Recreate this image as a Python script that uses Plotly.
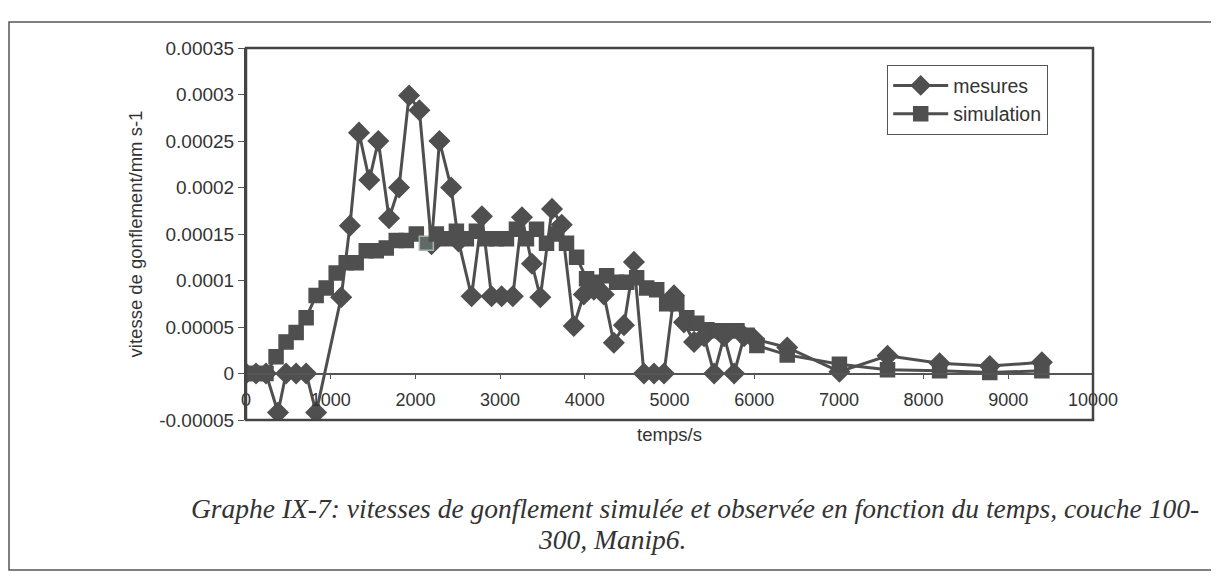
import plotly.graph_objects as go

# ---- data ----
mes_t = [0, 118, 236, 378, 473, 592, 710, 828, 1124, 1227, 1334, 1456, 1562, 1689,
         1807, 1925, 2047, 2190, 2284, 2422, 2509, 2663, 2785, 2899, 3018, 3150,
         3258, 3376, 3475, 3613, 3728, 3870, 3988, 4107, 4225, 4343, 4462, 4580,
         4698, 4817, 4935, 5053, 5171, 5290, 5408, 5527, 5645, 5763, 5881, 6000,
         6390, 7006, 7574, 8189, 8781, 9396]
mes_v = [0, 0, 0, -0.000042, 0, 0, 0, -0.000042, 0.000082, 0.000159, 0.000259,
         0.000208, 0.00025, 0.000167, 0.0002, 0.000299, 0.000283, 0.000139,
         0.00025, 0.0002, 0.000142, 0.000083, 0.000169, 0.000083, 0.000083,
         0.000083, 0.000168, 0.000118, 0.000082, 0.000177, 0.00016, 0.000051,
         0.000085, 0.00009, 0.000085, 0.000033, 0.000052, 0.00012, 0, 0, 0,
         0.000084, 0.000055, 0.000034, 0.00004, 0, 0.00004, 0, 0.00004,
         0.000037, 0.000028, 0.000002, 0.000019, 0.000011, 0.000008, 0.000012]

sim_t = [0, 118, 236, 355, 473, 592, 710, 828, 947, 1065, 1183, 1301, 1420, 1538,
         1656, 1774, 1893, 2011, 2129, 2247, 2365, 2484, 2602, 2720, 2838, 2957,
         3075, 3193, 3311, 3430, 3548, 3666, 3784, 3903, 4021, 4139, 4258, 4376,
         4494, 4612, 4731, 4849, 4967, 5086, 5204, 5322, 5441, 5559, 5677, 5796,
         5914, 6032, 6390, 7006, 7574, 8189, 8781, 9396]
sim_v = [0, 0, 0, 0.000018, 0.000034, 0.000044, 0.00006, 0.000084, 0.000092,
         0.000108, 0.000119, 0.000119, 0.000132, 0.000132, 0.000135, 0.000143,
         0.000143, 0.00015, 0.00014, 0.00015, 0.000145, 0.000153, 0.000145,
         0.000153, 0.000145, 0.000145, 0.000145, 0.000155, 0.000145, 0.000155,
         0.00014, 0.00015, 0.00014, 0.000125, 0.000102, 0.000098, 0.000105,
         0.000098, 0.000098, 0.000103, 0.000092, 0.00009, 0.000075, 0.000075,
         0.00006, 0.000054, 0.000047, 0.000046, 0.000046, 0.000046, 0.000041,
         0.00003, 0.00002, 0.00001, 0.000004, 0.000003, 0.000001, 0.000003]

x_ticks = [0, 1000, 2000, 3000, 4000, 5000, 6000, 7000, 8000, 9000, 10000]
x_ticktext = ["0", "1000", "2000", "3000", "4000", "5000", "6000", "7000", "8000", "9000", "10000"]
y_ticks = [-0.00005, 0, 0.00005, 0.0001, 0.00015, 0.0002, 0.00025, 0.0003, 0.00035]
y_ticktext = ["-0.00005", "0", "0.00005", "0.0001", "0.00015", "0.0002", "0.00025", "0.0003", "0.00035"]

highlight_time = 2129  # the lighter (selected) simulation marker in the scan

# ---- styling ----
DARK = "#4f4f4f"
FONT = "Liberation Sans"
TXT = "#333333"

sim_colors = ["#5f6c66" if t == highlight_time else DARK for t in sim_t]
sim_lines = ["#a9b3ae" if t == highlight_time else DARK for t in sim_t]

fig = go.Figure()
fig.add_trace(go.Scatter(
    x=mes_t, y=mes_v, name="mesures", mode="lines+markers",
    line=dict(color=DARK, width=3),
    marker=dict(symbol="diamond", size=17, color=DARK, line=dict(color=DARK, width=0)),
))
fig.add_trace(go.Scatter(
    x=sim_t, y=sim_v, name="simulation", mode="lines+markers",
    line=dict(color=DARK, width=3),
    marker=dict(symbol="square", size=14, color=sim_colors, line=dict(color=sim_lines, width=1.5)),
))

# page has an 8px body margin; figure coordinates = page coordinates - 8
OFF = 8
W, H = 1219 - OFF, 579 - OFF
L, T = 246 - OFF, 48 - OFF
pw, ph = 847, 372
R, B = W - L - pw, H - T - ph
ymin, ymax = -0.00005, 0.00035
zero_pos = (0 - ymin) / (ymax - ymin)

def px_x(p):  # page pixel -> paper x
    return (p - OFF - L) / pw

def px_y(p):  # page pixel -> paper y
    return (T + ph - (p - OFF)) / ph

fig.update_layout(
    width=W, height=H,
    margin=dict(l=L, r=R, t=T, b=B),
    paper_bgcolor="white", plot_bgcolor="white",
    font=dict(family=FONT, size=18, color=TXT),
    showlegend=True,
    legend=dict(
        x=px_x(887), y=px_y(65), xanchor="left", yanchor="top",
        bordercolor="#555555", borderwidth=1.2, bgcolor="white",
        font=dict(family=FONT, size=19.5, color=TXT),
        tracegroupgap=0, itemwidth=55,
    ),
    xaxis=dict(
        range=[0, 10000], anchor="free", position=zero_pos,
        tickvals=x_ticks, ticktext=x_ticktext,
        showline=True, linecolor="#555555", linewidth=1.5,
        ticks="outside", ticklen=5, tickcolor="#555555",
        ticklabelstandoff=5,
        showgrid=False, zeroline=False,
        title=dict(text="temps/s", standoff=18, font=dict(family=FONT, size=18.5)),
        tickfont=dict(family=FONT, size=18, color=TXT),
    ),
    yaxis=dict(
        range=[ymin, ymax],
        tickvals=y_ticks, ticktext=y_ticktext,
        showline=True, linecolor="#444444", linewidth=2,
        ticks="outside", ticklen=6, tickcolor="#555555",
        showgrid=False, zeroline=False,
        title=dict(text="vitesse de gonflement/mm s-1", standoff=12, font=dict(family=FONT, size=18.5)),
        tickfont=dict(family=FONT, size=19, color=TXT),
    ),
    shapes=[
        # plot area frame
        dict(type="rect", xref="paper", yref="paper", x0=0, x1=1, y0=0, y1=1,
             line=dict(color="#444444", width=2.5), layer="above"),
        # outer figure frame
        dict(type="rect", xref="paper", yref="paper",
             x0=px_x(9), x1=px_x(1213), y0=px_y(570), y1=px_y(22),
             line=dict(color="#555555", width=1.5)),
    ],
    annotations=[
        dict(text="<i>Graphe IX-7: vitesses de gonflement simulée et observée en fonction du temps, couche 100-</i>",
             xref="paper", yref="paper", x=px_x(695), y=px_y(508),
             xanchor="center", yanchor="middle", showarrow=False,
             font=dict(family="Liberation Serif", size=27.5, color=TXT)),
        dict(text="<i>300, Manip6.</i>",
             xref="paper", yref="paper", x=px_x(612), y=px_y(539),
             xanchor="center", yanchor="middle", showarrow=False,
             font=dict(family="Liberation Serif", size=27.5, color=TXT)),
    ],
)

fig.write_html("out.html")
